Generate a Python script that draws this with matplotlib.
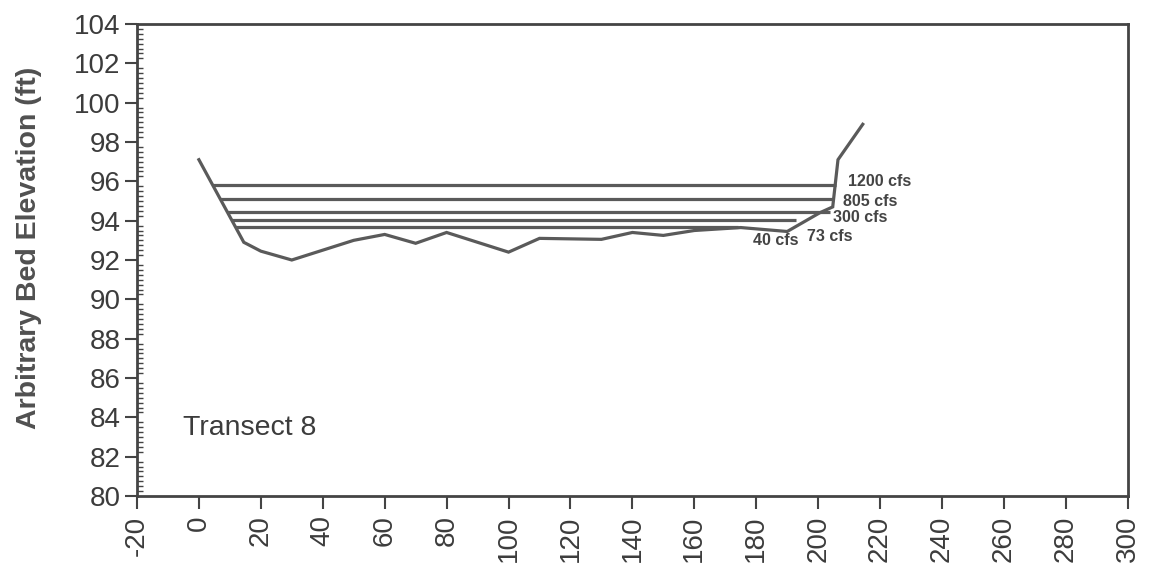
import matplotlib
matplotlib.use("Agg")
import matplotlib.pyplot as plt
from matplotlib.ticker import MultipleLocator

plt.rcParams["font.family"] = ["Liberation Sans", "DejaVu Sans"]

# channel bed profile (station ft, elevation ft)
bed_x = [0, 14.5, 20, 30, 40, 50, 60, 70, 80, 90, 100, 110, 130, 140, 150, 160, 175, 190, 200.5, 204.7, 206.4, 214.4]
bed_y = [97.1, 92.9, 92.45, 92.0, 92.5, 93.0, 93.3, 92.85, 93.4, 92.9, 92.4, 93.1, 93.05, 93.4, 93.25, 93.5, 93.65, 93.45, 94.4, 94.7, 97.1, 98.9]

# water surface for each discharge
flows = ["1200 cfs", "805 cfs", "300 cfs", "73 cfs", "40 cfs"]
wse = [95.8, 95.1, 94.45, 94.05, 93.7]
ws_left = [4.5, 6.9, 9.1, 10.5, 11.7]
ws_right = [205.8, 205.2, 203.8, 193.0, 174.0]
label_x = [209.6, 208.0, 204.7, 196.3, 178.9]
label_y = [95.97, 94.95, 94.14, 93.22, 92.97]

xticks = list(range(-20, 301, 20))
yticks = list(range(80, 105, 2))

LINE = "#5a5a5a"
TEXT = "#3c3c3c"

fig = plt.figure(figsize=(11.52, 5.71), dpi=100)
ax = fig.add_axes([0.1189, 0.1313, 0.979 - 0.1189, 0.958 - 0.1313])

ax.plot(bed_x, bed_y, color=LINE, lw=2.3, solid_joinstyle="miter")
for y, x0, x1 in zip(wse, ws_left, ws_right):
    ax.plot([x0, x1], [y, y], color=LINE, lw=2.3, solid_capstyle="butt")
for name, tx, ty in zip(flows, label_x, label_y):
    ax.text(tx, ty, name, fontsize=11.5, fontweight="bold", color="#444444",
            ha="left", va="center")

ax.text(-5.1, 83.46, "Transect 8", fontsize=20.5, color=TEXT, ha="left", va="center")

ax.set_xlim(-20, 300)
ax.set_ylim(80, 104)
ax.set_xticks(xticks)
ax.set_xticklabels([str(v) for v in xticks], rotation=90)
ax.set_yticks(yticks)
ax.yaxis.set_minor_locator(MultipleLocator(0.25))

ax.tick_params(axis="x", direction="out", length=9, width=1.5, color="#444444",
               labelsize=20, labelcolor=TEXT, pad=5)
ax.tick_params(axis="y", which="major", direction="out", length=9, width=1.5,
               color="#444444", labelsize=20, labelcolor=TEXT, pad=3)
ax.tick_params(axis="y", which="minor", direction="in", length=4, width=1, color="#444444")

for s in ax.spines.values():
    s.set_color("#444444")
    s.set_linewidth(2)

ax.set_ylabel("Arbitrary Bed Elevation (ft)", fontsize=20.5, fontweight="bold", color="#505050")
ax.yaxis.set_label_coords(-0.096, 0.525)

fig.savefig("out.png", dpi=100, facecolor="white")
